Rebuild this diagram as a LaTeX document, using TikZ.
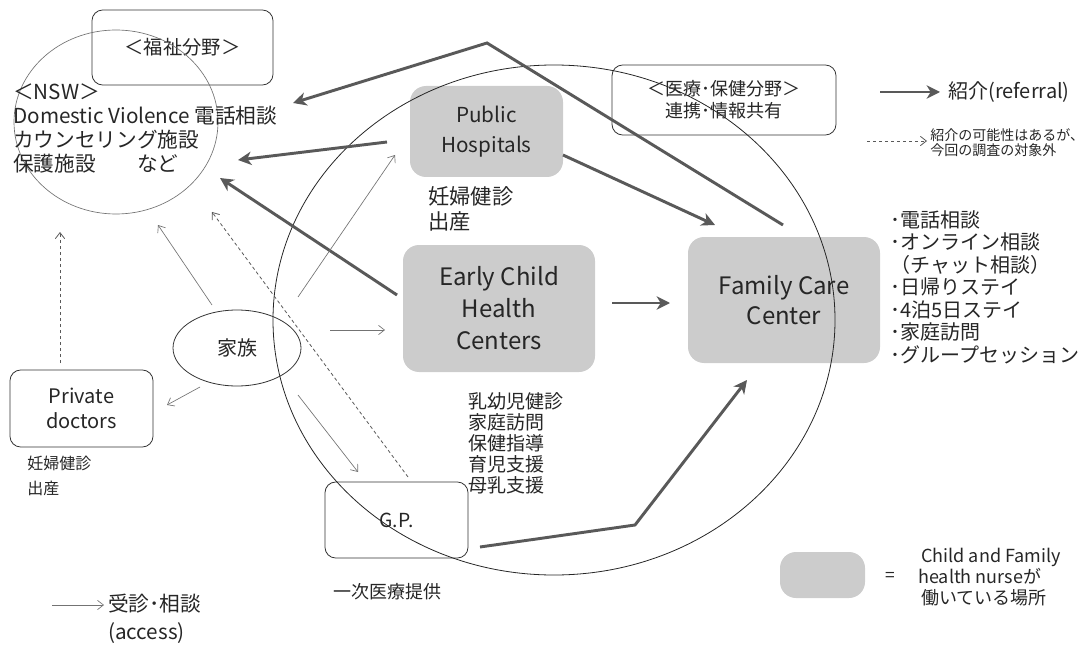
\documentclass[tikz,border=0pt]{standalone}
\usepackage{fontspec}
\setmainfont{Noto Sans CJK JP}
\usetikzlibrary{arrows.meta,shapes.geometric}
\begin{document}
\begin{tikzpicture}[x=0.75pt,y=-0.75pt,
  txt/.style={text=black!85, inner sep=0pt, align=left},
  graybox/.style={fill=black!20, rounded corners=12pt, text=black!85, align=center, inner sep=0pt},
  whitebox/.style={draw=black!80, line width=0.6pt, rounded corners=8pt, text=black!85, align=center, inner sep=0pt},
  refarrow/.style={draw=black!65, line width=2.2pt, -{Stealth[length=10pt,width=10pt,inset=3pt]}},
  accarrow/.style={draw=black!55, line width=0.5pt, -{Straight Barb[length=4.5pt,width=7pt]}},
  mayarrow/.style={draw=black!65, line width=0.6pt, dash pattern=on 2.5pt off 2pt, -{Straight Barb[length=4.5pt,width=7pt]}},
  bigring/.style={draw=black!85, line width=0.6pt},
  smallring/.style={draw=black!55, line width=0.5pt}
]
\useasboundingbox (0,0) rectangle (1087,645);

% gray boxes (Child and Family health nurse)
\node[graybox, minimum width=114.75pt, minimum height=68.25pt, font=\fontsize{15.5}{22.5}\selectfont] (ph) at (486.5,131.5) {\raisebox{-1.5pt}{Public}\\\raisebox{-1.5pt}{Hospitals}};
\node[graybox, minimum width=144pt, minimum height=95.25pt, font=\fontsize{18}{24}\selectfont] (echc) at (499,308.5) {Early Child\\Health\\Centers};
\node[graybox, minimum width=144pt, minimum height=94.5pt, font=\fontsize{18}{22.5}\selectfont] (fcc) at (784,300) {Family Care\\Center};
\node[graybox, minimum width=63.75pt, minimum height=34.5pt] (leg) at (822.5,575) {};

% white boxes
\node[whitebox, minimum width=135.75pt, minimum height=56.25pt, font=\fontsize{14.5}{18}\selectfont] (fuku) at (182.5,47.5) {＜福祉分野＞};
\node[whitebox, minimum width=168pt, minimum height=52.5pt, font=\fontsize{13.5}{16.5}\selectfont] (iryo) at (724,100) {＜医療･保健分野＞\\連携･情報共有};
\node[whitebox, minimum width=107.25pt, minimum height=57.75pt, font=\fontsize{15}{18.75}\selectfont] (pd) at (81.5,408.5) {Private\\doctors};
\node[whitebox, minimum width=107.25pt, minimum height=57pt, font=\fontsize{14.5}{16}\selectfont] (gp) at (396.5,520) {G.P.};
\node[ellipse, draw=black!80, line width=0.6pt, minimum width=96pt, minimum height=57pt, inner sep=0pt, text=black!85, font=\fontsize{15}{18}\selectfont] (kz) at (237,348) {家族};

% rings
\draw[smallring] (116,122) ellipse [x radius=76.5pt, y radius=69pt];
\draw[bigring] (554,320) ellipse [x radius=210.75pt, y radius=191.25pt];

% texts
\node[txt, anchor=west, font=\fontsize{15.5}{18}\selectfont] (nsw) at (13,128) {＜NSW＞\\Domestic Violence 電話相談\\カウンセリング施設\\保護施設　　など};
\node[txt, anchor=north west, font=\fontsize{16}{18.75}\selectfont] (phl) at (428,186) {妊婦健診\\出産};
\node[txt, anchor=north west, font=\fontsize{14.25}{15.75}\selectfont] (echcl) at (468,392) {乳幼児健診\\家庭訪問\\保健指導\\育児支援\\母乳支援};
\node[txt, anchor=north west, font=\fontsize{15}{16.9}\selectfont] (fccl) at (890,210) {･電話相談\\･オンライン相談\\（チャット相談）\\･日帰りステイ\\･4泊5日ステイ\\･家庭訪問\\･グループセッション};
\node[txt, anchor=north west, font=\fontsize{12}{18.5}\selectfont] (pdl) at (27,456) {妊婦健診\\出産};
\node[txt, anchor=center, font=\fontsize{13.5}{16}\selectfont] (gpl) at (387,592) {一次医療提供};

% legends
\coordinate (lr1) at (880,92);
\coordinate (lr2) at (940,92);
\node[txt, anchor=west, font=\fontsize{15}{18}\selectfont] (lrt) at (948,92) {紹介(referral)};
\coordinate (lm1) at (867,141);
\coordinate (lm2) at (927,141);
\node[txt, anchor=west, font=\fontsize{10.5}{11.5}\selectfont] (lmt) at (930,143) {紹介の可能性はあるが、\\今回の調査の対象外};
\coordinate (la1) at (52,605);
\coordinate (la2) at (104,605);
\node[txt, anchor=north west, font=\fontsize{15.5}{21}\selectfont] (lat) at (108,594) {受診･相談\\(access)};
\node[txt, anchor=center, font=\fontsize{13}{16}\selectfont] (eq) at (890,577) {=};
\node[txt, anchor=west, font=\fontsize{13.5}{16}\selectfont] (legt) at (918,577) {\,Child and Family\\health nurseが\\\,働いている場所};

\draw[refarrow] (lr1) -- (lr2);
\draw[mayarrow] (lm1) -- (lm2);
\draw[accarrow] (la1) -- (la2);

% referral arrows
\coordinate (bend1) at (487,43);
\coordinate (fccTop) at (783,225);
\coordinate (nswA) at (293,103);
\coordinate (phW) at (387,142);
\coordinate (nswB) at (238,160);
\coordinate (echcNW) at (397,295);
\coordinate (nswC) at (220,178);
\coordinate (phSE) at (563,155);
\coordinate (fccA) at (715,225);
\coordinate (echcE) at (612,303);
\coordinate (fccW) at (670,303);
\coordinate (gpE) at (480,547);
\coordinate (bend2) at (635,525);
\coordinate (fccS) at (747,380);
\draw[refarrow] (fccTop) -- (bend1) -- (nswA);
\draw[refarrow] (phW) -- (nswB);
\draw[refarrow] (echcNW) -- (nswC);
\draw[refarrow] (phSE) -- (fccA);
\draw[refarrow] (echcE) -- (fccW);
\draw[refarrow] (gpE) -- (bend2) -- (fccS);

% access arrows from family
\coordinate (kzA) at (212,305);
\coordinate (nswD) at (158,225);
\coordinate (kzB) at (298,297);
\coordinate (phSW) at (395,155);
\coordinate (kzC) at (330,330);
\coordinate (echcW) at (385,330);
\coordinate (kzD) at (200,387);
\coordinate (pdNE) at (167,405);
\coordinate (kzE) at (298,395);
\coordinate (gpN) at (358,472);
\draw[accarrow] (kzA) -- (nswD);
\draw[accarrow] (kzB) -- (phSW);
\draw[accarrow] (kzC) -- (echcW);
\draw[accarrow] (kzD) -- (pdNE);
\draw[accarrow] (kzE) -- (gpN);

% possible referrals (dashed)
\coordinate (gpTop) at (408,477);
\coordinate (nswE) at (212,212);
\coordinate (pdTop) at (60,363);
\coordinate (nswF) at (60,232);
\draw[mayarrow] (gpTop) -- (nswE);
\draw[mayarrow] (pdTop) -- (nswF);
\end{tikzpicture}
\end{document}
